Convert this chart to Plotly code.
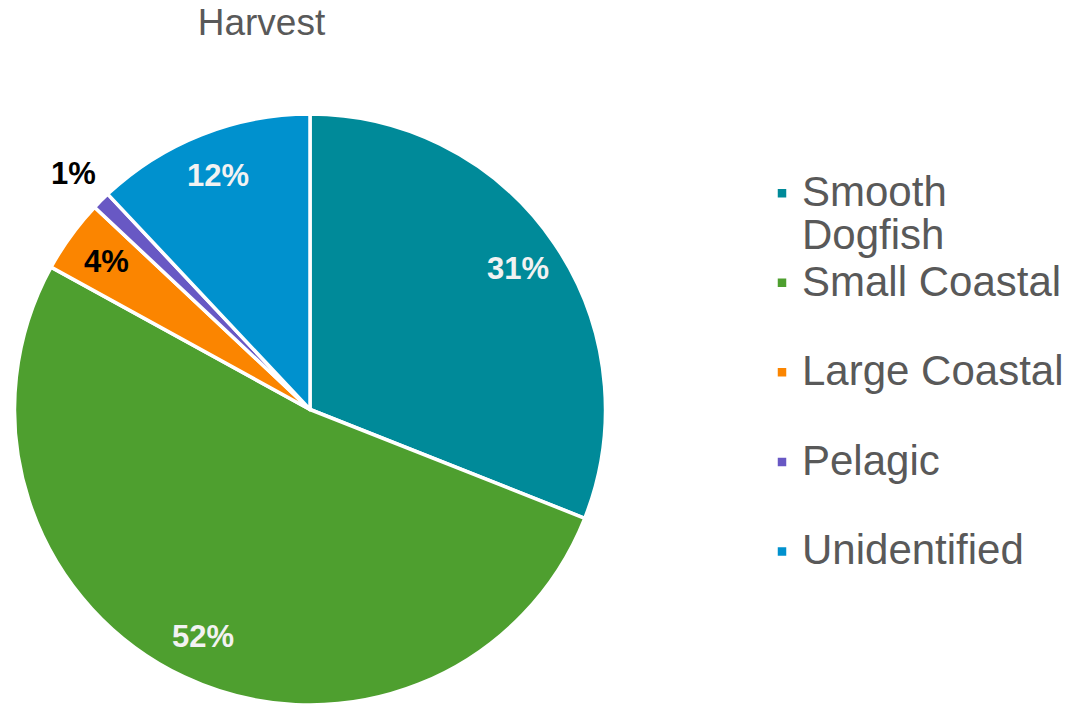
import math
import plotly.graph_objects as go

# Share of harvest by shark group (percent)
groups = ["Smooth Dogfish", "Small Coastal", "Large Coastal", "Pelagic", "Unidentified"]
legend_names = ["Smooth<br>Dogfish", "Small Coastal", "Large Coastal", "Pelagic", "Unidentified"]
shares = [31, 52, 4, 1, 12]
colors = ["#008A99", "#4E9F2F", "#FB8500", "#6858C4", "#0091CE"]
label_colors = ["#F2F2F2", "#F2F2F2", "#000000", "#000000", "#F2F2F2"]
label_outside = [False, False, False, True, False]

W, H = 1069, 705
BIG = 42      # displayed legend text size
BASE = 33.3   # legend base size, sets row spacing

# pie placement in pixels (domain is square so plotly keeps this exactly)
CX, CY, R = 310, 409.5, 295.5

def legend_label(name):
    lines = name.split("<br>")
    body = "<br>".join(f"<span style='font-size:{BIG}px'>{ln}</span>" for ln in lines)
    if len(lines) == 1:
        body += "<br> "
    return body

fig = go.Figure(
    go.Pie(
        labels=[legend_label(n) for n in legend_names],
        values=shares,
        sort=False,
        direction="clockwise",
        rotation=0,
        marker=dict(colors=colors, line=dict(color="white", width=3.5)),
        textinfo="none",
        hoverinfo="skip",
        domain=dict(x=[(CX - R) / W, (CX + R) / W], y=[(H - CY - R) / H, (H - CY + R) / H]),
    )
)

# percentage labels, placed along each slice's mid-angle
total = sum(shares)
cum = 0
for v, col, out in zip(shares, label_colors, label_outside):
    ang = math.radians(360 * (cum + v / 2) / total)
    cum += v
    rr = R * (1.13 if out else 0.85)
    px = CX + rr * math.sin(ang)
    py = CY - rr * math.cos(ang)
    fig.add_annotation(
        x=px / W, y=1 - py / H, xref="paper", yref="paper",
        text=f"<b>{v}%</b>", showarrow=False,
        xanchor="center", yanchor="middle",
        font=dict(family="Liberation Sans, Arial", size=31, color=col),
    )

fig.update_layout(
    width=W,
    height=H,
    margin=dict(l=0, r=0, t=0, b=0),
    paper_bgcolor="white",
    plot_bgcolor="white",
    font=dict(family="Liberation Sans, Arial", color="#595959"),
    title=dict(
        text="Harvest",
        x=261.5 / W,
        xanchor="center",
        y=1 - 22 / H,
        yanchor="middle",
        font=dict(size=37, color="#595959"),
    ),
    legend=dict(
        x=762 / W,
        xanchor="left",
        y=1 - 165 / H,
        yanchor="top",
        valign="top",
        font=dict(size=BASE, color="#595959"),
        bgcolor="rgba(0,0,0,0)",
    ),
)

fig.write_html("out.html")
